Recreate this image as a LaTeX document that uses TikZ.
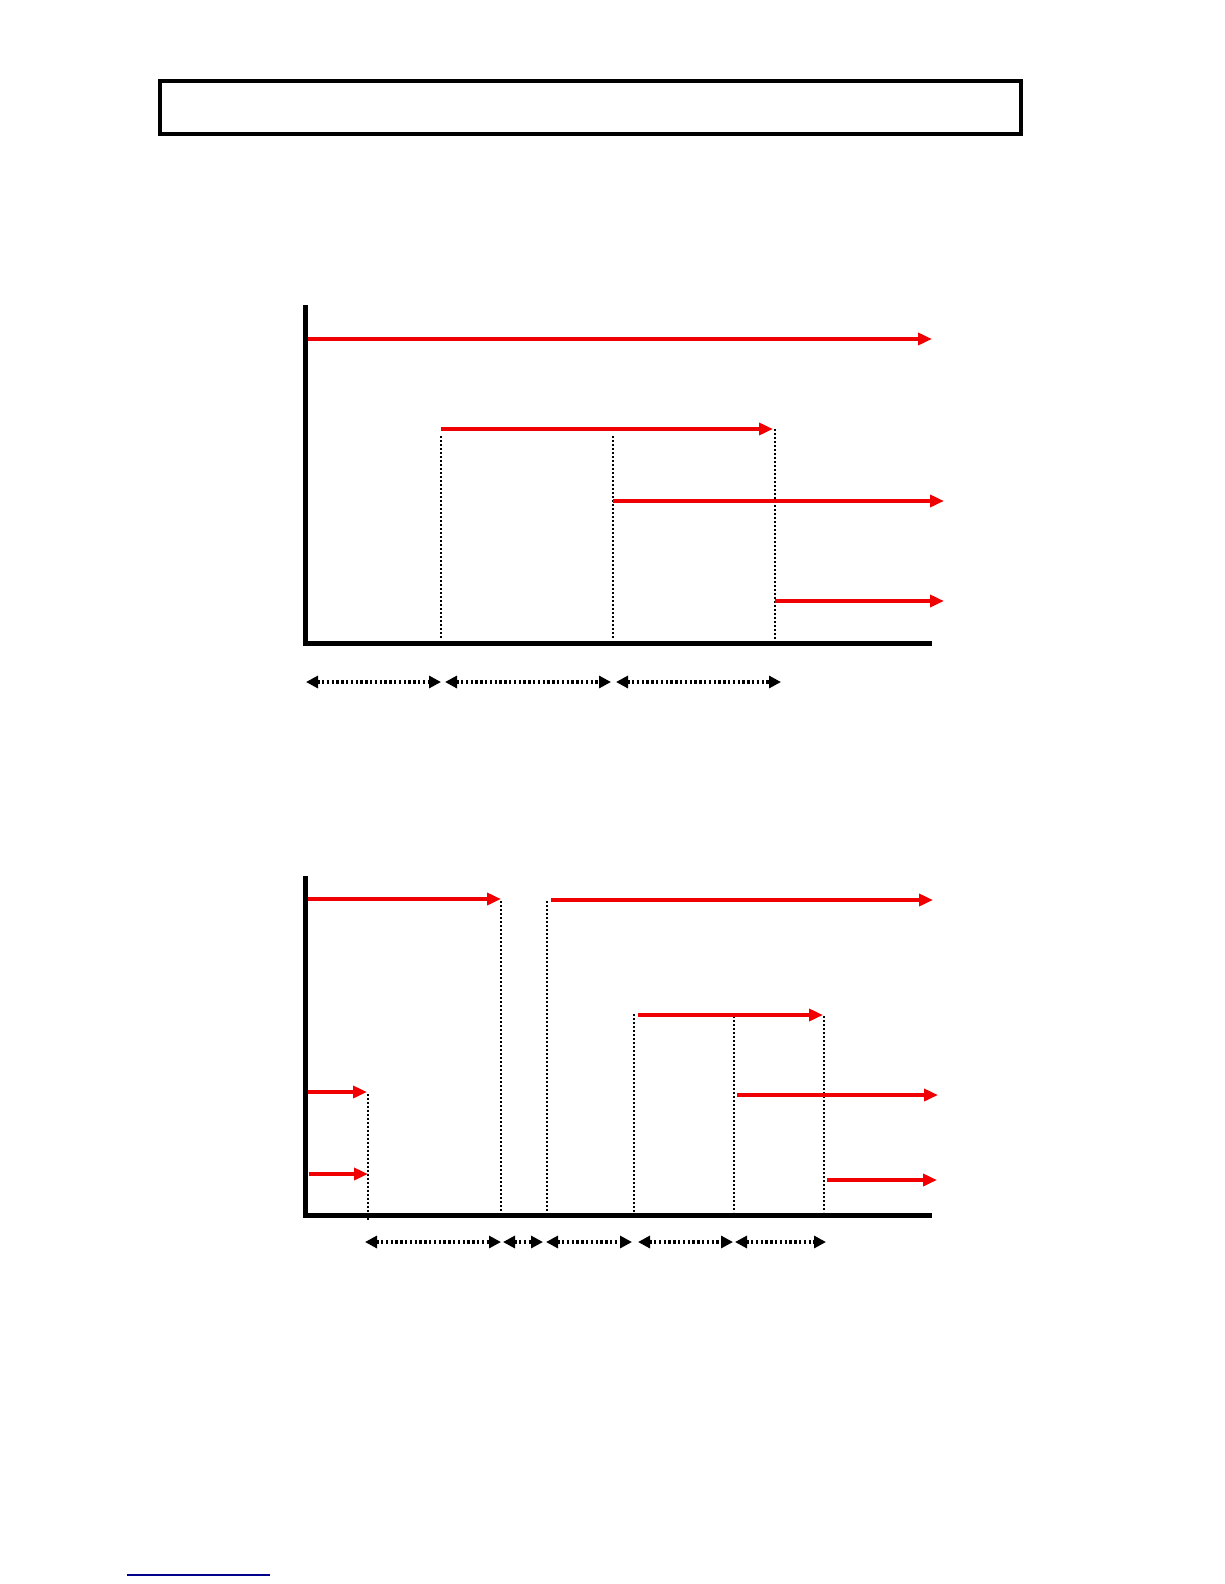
\documentclass[tikz,border=0pt]{standalone}
\usetikzlibrary{arrows.meta}
\definecolor{redline}{RGB}{240,0,0}
\definecolor{navyline}{RGB}{0,0,140}
\tikzset{
  axisline/.style={line width=5pt, line cap=butt, line join=miter},
  redarrow/.style={draw=redline, line width=3.8pt, -{Triangle[length=14pt,width=12pt]}},
  guide/.style={draw=black, dotted, line width=2pt},
  dimarrow/.style={draw=black, line width=3.4pt, dash pattern=on 2.4pt off 2.4pt, {Triangle[length=12pt,width=12pt]}-{Triangle[length=12pt,width=12pt]}},
  titlebox/.style={draw=black, line width=3.5pt}
}
\begin{document}
\begin{tikzpicture}[x=1pt,y=-1pt]
\useasboundingbox[fill=white] (0,0) rectangle (1224,1584);
% title box
\draw[titlebox] (160,81) rectangle (1021,134);

% ===== chart 1 =====
\coordinate (o1) at (305,643);
\coordinate (y1) at (305,305);
\coordinate (x1) at (932,643);
\draw[axisline] (y1) -- (o1) -- (x1);
% guides
\draw[guide] (441,436) -- (441,639);
\draw[guide] (613,436) -- (613,639);
\draw[guide] (775,429) -- (775,639);
% red arrows
\draw[redarrow] (308,339) -- (932,339);
\draw[redarrow] (441,429) -- (773,429);
\draw[redarrow] (613,501) -- (944,501);
\draw[redarrow] (775,601) -- (944,601);
% dimension arrows
\draw[dimarrow] (306,682) -- (441,682);
\draw[dimarrow] (445,682) -- (611,682);
\draw[dimarrow] (616,682) -- (781,682);

% ===== chart 2 =====
\coordinate (o2) at (305,1215);
\coordinate (y2) at (305,876);
\coordinate (x2) at (932,1215);
\draw[axisline] (y2) -- (o2) -- (x2);
% guides
\draw[guide] (368,1094) -- (368,1220);
\draw[guide] (501,901) -- (501,1212);
\draw[guide] (547,901) -- (547,1212);
\draw[guide] (634,1014) -- (634,1212);
\draw[guide] (734,1016) -- (734,1212);
\draw[guide] (824,1016) -- (824,1212);
% red arrows
\draw[redarrow] (308,899) -- (501,899);
\draw[redarrow] (551,900) -- (933,900);
\draw[redarrow] (638,1015) -- (823,1015);
\draw[redarrow] (737,1095) -- (938,1095);
\draw[redarrow] (827,1180) -- (937,1180);
\draw[redarrow] (308,1092) -- (367,1092);
\draw[redarrow] (309,1174) -- (368,1174);
% dimension arrows
\draw[dimarrow] (365,1242) -- (501,1242);
\draw[dimarrow] (503,1242) -- (543,1242);
\draw[dimarrow] (546,1242) -- (632,1242);
\draw[dimarrow] (638,1242) -- (733,1242);
\draw[dimarrow] (735,1242) -- (826,1242);

% bottom line
\draw[navyline, line width=1.2pt] (127,1575) -- (270,1575);
\end{tikzpicture}
\end{document}
